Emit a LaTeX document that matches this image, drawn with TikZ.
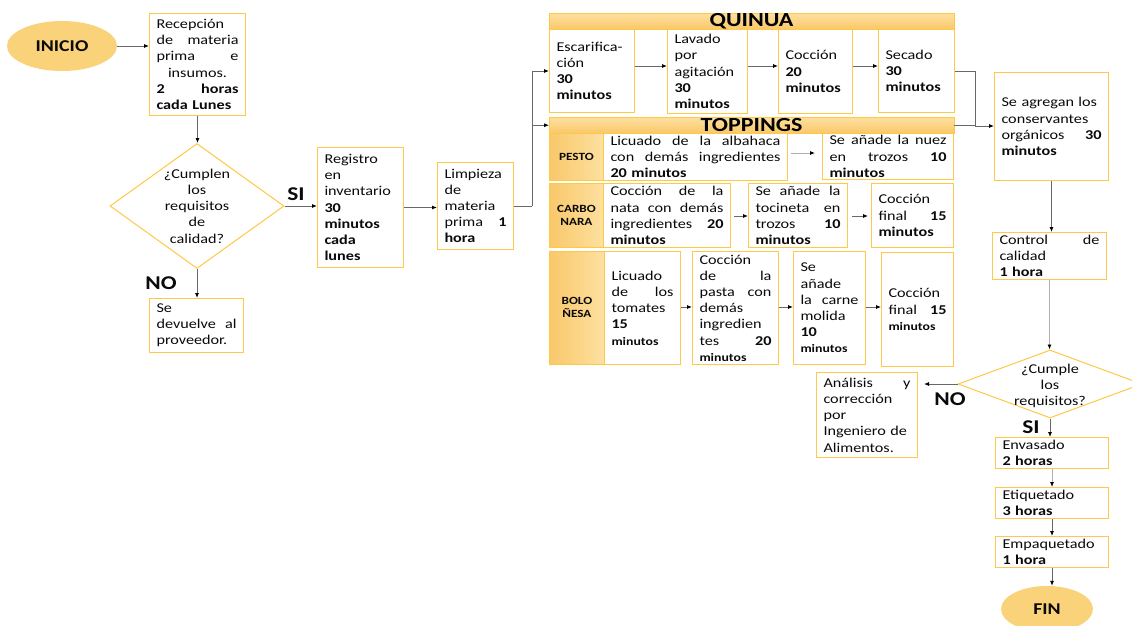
\documentclass[tikz,border=0pt]{standalone}
\usepackage{fontspec}
\setmainfont[FakeStretch=1.2]{Carlito}
\usetikzlibrary{arrows.meta,shapes.geometric,calc}

\definecolor{boxc}{RGB}{255,200,70}
\definecolor{bandtop}{RGB}{253,224,160}
\definecolor{bandbot}{RGB}{249,200,105}
\definecolor{termc}{RGB}{250,210,122}
\definecolor{txt}{RGB}{10,10,10}
\definecolor{linec}{RGB}{105,105,105}
\definecolor{lightline}{RGB}{175,175,175}

% a justified line spread over the full text width
\newcommand\jl[1]{\makebox[\hsize][s]{\spaceskip=0.25em plus 1fil\relax #1}}
% small bold line used in the Boloñesa row
\newcommand\smb[1]{{\fontsize{11.5}{13}\selectfont\bfseries #1}}

\tikzset{
  box/.style={draw=boxc, line width=1pt, fill=white, inner xsep=7pt, inner ysep=0pt,
              align=left, anchor=north west, text=txt},
  band/.style={draw=boxc, line width=0.4pt, top color=bandtop, bottom color=bandbot,
               inner sep=0pt, anchor=north west},
  cell/.style={draw=boxc, line width=0.8pt, left color=bandbot, right color=bandtop,
               inner sep=0pt, anchor=north west, align=center, text=txt,
               font=\fontsize{11}{13}\selectfont\bfseries},
  htext/.style={font=\fontsize{20}{20}\selectfont\bfseries, text=black, inner sep=0pt},
  term/.style={ellipse, fill=termc, inner sep=0pt, text=txt,
               font=\fontsize{16.5}{18}\selectfont\bfseries},
  dia/.style={diamond, draw=boxc, line width=1pt, fill=white, inner sep=0pt},
  dtext/.style={align=center, inner sep=0pt, text=txt},
  lbl/.style={font=\fontsize{19.5}{20}\selectfont\bfseries, text=txt, inner sep=0pt},
  conn/.style={draw=linec, line width=0.8pt, -{Latex[length=5pt,width=4pt,color=black]}},
  lconn/.style={conn, draw=lightline},
  plain/.style={draw=linec, line width=0.8pt}
}

\begin{document}
\begin{tikzpicture}[x=1pt,y=-1pt, font=\fontsize{13.5}{16.2}\selectfont]
\useasboundingbox[fill=white] (0,0) rectangle (1132,626);

% ---------- reception and first check ----------
\node[term, minimum width=110pt, minimum height=50pt] (ini) at (62,46) {INICIO};

\node[box, text width=82pt, minimum height=102pt] (rec) at (149,13)
  {Recepción\\\jl{de materia}\\\jl{prima e}\\\makebox[\hsize]{insumos.}\\\jl{\textbf{2 horas}}\\\textbf{cada Lunes}};

\node[dia, minimum width=174pt, minimum height=125pt] (q1) at (197,206) {};
\node[dtext] (q1t) at (197,206) {¿Cumplen\\los\\requisitos\\de\\calidad?};

\node[box, text width=72pt, minimum height=120pt] (reg) at (317,147)
  {Registro\\en\\inventario\\\textbf{30}\\\textbf{minutos}\\\textbf{cada}\\\textbf{lunes}};

\node[box, text width=80pt, minimum height=54pt] (dev) at (149,298)
  {Se\\\jl{devuelve al}\\proveedor.};

\node[lbl] (si1) at (296,194) {SI};
\node[lbl] (no1) at (161,283) {NO};

\node[box, text width=62pt, minimum height=87pt] (limp) at (437,162)
  {Limpieza\\de\\materia\\\jl{prima \textbf{1}}\\\textbf{hora}};

% ---------- quinua ----------
\node[band, minimum width=405pt, minimum height=16pt] (qh) at (549,13) {};
\node[htext] (qht) at (751.5,21) {QUINUA};

\node[box, text width=71pt, minimum height=83pt] (esc) at (549,29)
  {Escarifica-\\ción\\\textbf{30}\\\textbf{minutos}};
\node[box, text width=66pt, minimum height=84pt] (lav) at (667,29)
  {Lavado\\por\\agitación\\\textbf{30}\\\textbf{minutos}};
\node[box, text width=60pt, minimum height=84pt] (coc) at (778,29)
  {Cocción\\\textbf{20}\\\textbf{minutos}};
\node[box, text width=62pt, minimum height=83pt] (sec) at (878,29)
  {Secado\\\textbf{30}\\\textbf{minutos}};

% ---------- toppings ----------
\node[band, minimum width=405pt, minimum height=16pt] (th) at (549,117) {};
\node[htext] (tht) at (751.5,125) {TOPPINGS};

\node[cell, minimum width=54pt, minimum height=47pt] (pesto) at (549,133) {PESTO};
\node[box, text width=170pt, minimum height=47pt] (p1) at (603,133)
  {\jl{Licuado de la albahaca}\\\jl{con demás ingredientes}\\\textbf{20 minutos}};
\node[box, text width=117pt, minimum height=46pt] (p2) at (822,133)
  {\jl{Se añade la nuez}\\\jl{en trozos \textbf{10}}\\\textbf{minutos}};

\node[cell, minimum width=54pt, minimum height=64pt] (carbo) at (549,183) {CARBO\\NARA};
\node[box, text width=113pt, minimum height=64pt] (c1) at (603,183)
  {\jl{Cocción de la}\\\jl{nata con demás}\\\jl{ingredientes \textbf{20}}\\\textbf{minutos}};
\node[box, text width=85pt, minimum height=64pt] (c2) at (748,183)
  {\jl{Se añade la}\\\jl{tocineta en}\\\jl{trozos \textbf{10}}\\\textbf{minutos}};
\node[box, text width=68pt, minimum height=64pt] (c3) at (871,183)
  {Cocción\\\jl{final \textbf{15}}\\\textbf{minutos}};

\node[cell, minimum width=55pt, minimum height=113pt] (bolo) at (549,251) {BOLO\\ÑESA};
\node[box, text width=62pt, minimum height=113pt] (b1) at (604,251)
  {Licuado\\\jl{de los}\\tomates\\\textbf{15}\\\smb{minutos}};
\node[box, text width=72pt, minimum height=113pt] (b2) at (692,251)
  {Cocción\\\jl{de la}\\\jl{pasta con}\\demás\\ingredien\\\jl{tes \textbf{20}}\\\smb{minutos}};
\node[box, text width=58pt, minimum height=113pt] (b3) at (793,251)
  {Se\\añade\\\jl{la carne}\\molida\\\textbf{10}\\\smb{minutos}};
\node[box, text width=58pt, minimum height=114pt] (b4) at (881,252)
  {Cocción\\\jl{final \textbf{15}}\\\smb{minutos}};

% ---------- final stages ----------
\node[box, text width=100pt, minimum height=108pt] (cons) at (994,72)
  {Se agregan los\\conservantes\\\jl{orgánicos \textbf{30}}\\\textbf{minutos}};
\node[box, text width=100pt, minimum height=47pt] (ctrl) at (992,232)
  {\jl{Control de}\\calidad\\\textbf{1 hora}};

\node[dia, minimum width=184pt, minimum height=68pt] (q2) at (1050,384) {};
\node[dtext] (q2t) at (1050,386) {¿Cumple\\los\\requisitos?};

\node[box, text width=87pt, minimum height=85pt] (ana) at (816,372)
  {\jl{Análisis y}\\corrección\\por\\Ingeniero de\\Alimentos.};
\node[lbl] (no2) at (950,399) {NO};
\node[lbl] (si2) at (1031,427) {SI};

\node[box, text width=99pt, minimum height=31pt] (env) at (995,437)
  {Envasado\\\textbf{2 horas}};
\node[box, text width=99pt, minimum height=31pt] (eti) at (995,487)
  {Etiquetado\\\textbf{3 horas}};
\node[box, text width=99pt, minimum height=31pt] (emp) at (995,536)
  {Empaquetado\\\textbf{1 hora}};
\node[term, minimum width=92pt, minimum height=46pt] (fin) at (1047,609) {FIN};

% ---------- connectors ----------
\draw[conn] (ini.east) -- (ini.east -| rec.west);
\draw[conn] (rec.south) -- (rec.south |- q1.north);
\draw[conn] (q1.east) -- (q1.east -| reg.west);
\draw[conn] (q1.south) -- (q1.south |- dev.north);
\draw[conn] (reg.east) -- (reg.east -| limp.west);

\coordinate (br) at (532,206);
\draw[plain] (limp.east) -- (br);
\draw[conn] (br) |- (esc.west);
\draw[conn] (br) |- (th.west);

\coordinate (qa) at (0,66);
\draw[conn] (esc.east |- qa) -- (lav.west |- qa);
\draw[conn] (lav.east |- qa) -- (coc.west |- qa);
\draw[conn] (coc.east |- qa) -- (sec.west |- qa);

\coordinate (mg) at (975,126);
\draw[plain] (sec.east) -| (mg);
\draw[plain] (th.east) -- (th.east -| mg);
\draw[conn] (mg) -- (mg -| cons.west);

\coordinate (pa) at (0,153);
\draw[lconn] ([xshift=3pt]p1.east |- pa) -- ([xshift=-7pt]p2.west |- pa);
\coordinate (ca) at (0,216);
\draw[conn] ([xshift=3pt]c1.east |- ca) -- (c2.west |- ca);
\draw[conn] ([xshift=4pt]c2.east |- ca) -- ([xshift=-3pt]c3.west |- ca);
\coordinate (ba) at (0,307);
\draw[conn] (b1.east |- ba) -- (b2.west |- ba);
\draw[conn] (b2.east |- ba) -- (b3.west |- ba);
\draw[conn] (b3.east |- ba) -- (b4.west |- ba);

\draw[conn] (cons.south) -- (cons.south |- ctrl.north);
\draw[lconn] (ctrl.south) -- (ctrl.south |- q2.north);
\draw[conn] (q2.west) -- ([xshift=6pt]q2.west -| ana.east);
\draw[conn] (q2.south) -- (q2.south |- env.north);
\draw[lconn] (env.south) -- (env.south |- eti.north);
\draw[conn] (eti.south) -- (eti.south |- emp.north);
\draw[conn] (emp.south) -- (emp.south |- fin.north);
\end{tikzpicture}
\end{document}
